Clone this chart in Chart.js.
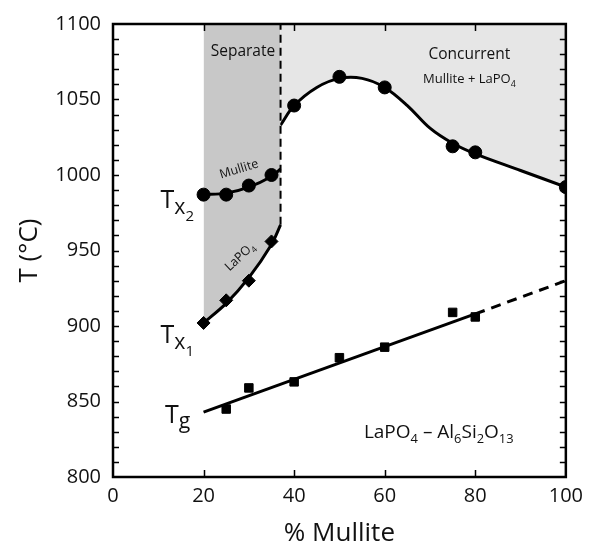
<!DOCTYPE html>
<html><head><meta charset="utf-8">
<script src="https://cdn.jsdelivr.net/npm/chart.js@4/dist/chart.umd.min.js"></script>
<style>html,body{margin:0;padding:0;background:#fff}#c{display:block}</style>
</head><body>
<canvas id="c" width="590" height="550"></canvas>
<script>
// ---- measured points ----
const tx2X = [20,25,30,35,40,50,60,75,80,100];
const tx2Y = [987,987,993,1000,1046,1065,1058,1019,1015,992];
const tx1X = [20,25,30,35];
const tx1Y = [902,917,930,956];
const tgX = [25,30,40,50,60,75,80];
const tgY = [845,859,863,879,886,909,906];
// ---- fitted curves ----
const tx1FitX = [20,25,30,35,37];
const tx1FitY = [902,915,932,954,967];
const tx2SepFitX = [20,25,30,35,37];
const tx2SepFitY = [987,988,992,999,1004];
const tx2ConFitX = [37,40,45,50,55,60,65,70,75,80,90,100];
const tx2ConFitY = [1033,1046,1058,1064,1064,1058,1046,1031,1021,1014,1003,992];
const tgFitX = [20,80];
const tgFitY = [843,908];
const tgExtX = [80,100];
const tgExtY = [908,930];
const boundaryX = [37,37];
const boundaryY = [967,1100];
// ---- axes ----
const xTicks = [0,20,40,60,80,100];
const yTicks = [800,850,900,950,1000,1050,1100];

const pts = (xs, ys) => xs.map((x,i)=>({x, y: ys[i]}));
const FONT = "'Open Sans', 'DejaVu Sans', sans-serif";

const decor = {
  id: 'decor',
  afterDatasetsDraw(chart) {
    const {ctx, chartArea: a, scales: {x, y}} = chart;
    ctx.save();
    ctx.strokeStyle = '#000';
    ctx.lineWidth = 1.5;
    // inward ticks
    ctx.beginPath();
    for (let v = 810; v < 1100; v += 10) {
      const py = Math.round(y.getPixelForValue(v)) + 0.5;
      ctx.moveTo(a.left, py); ctx.lineTo(a.left + 6, py);
      ctx.moveTo(a.right, py); ctx.lineTo(a.right - 6, py);
    }
    for (const v of xTicks.slice(1, -1)) {
      const px = Math.round(x.getPixelForValue(v)) + 0.5;
      ctx.moveTo(px, a.bottom); ctx.lineTo(px, a.bottom - 7);
      ctx.moveTo(px, a.top); ctx.lineTo(px, a.top + 7);
    }
    ctx.stroke();
    // frame
    ctx.lineWidth = 2.5;
    ctx.strokeRect(a.left, a.top, a.right - a.left, a.bottom - a.top);

    // texts
    ctx.fillStyle = '#111';
    const P = (vx, vy) => [x.getPixelForValue(vx), y.getPixelForValue(vy)];
    function rich(parts, px, py, size, align) {
      // parts: [text, mode, scale, dy]
      ctx.textBaseline = 'alphabetic';
      ctx.textAlign = 'left';
      const sz = m => m ? size * (m[2] || 0.68) : size;
      let w = 0;
      for (const pt of parts) {
        ctx.font = (pt[1] ? size * (pt[2] || 0.68) : size) + 'px ' + FONT;
        w += ctx.measureText(pt[0]).width;
      }
      let cx = align === 'center' ? px - w / 2 : px;
      for (const pt of parts) {
        const s = pt[1] ? size * (pt[2] || 0.68) : size;
        ctx.font = s + 'px ' + FONT;
        const dy = pt[1] ? (pt[3] !== undefined ? pt[3] : size * 0.28) : 0;
        ctx.fillText(pt[0], cx, py + dy);
        cx += ctx.measureText(pt[0]).width;
      }
    }
    let p;
    p = P(28.7, 1079); rich([['Separate',0]], p[0], p[1], 15.5, 'center');
    p = P(78.7, 1077); rich([['Concurrent',0]], p[0], p[1], 15.5, 'center');
    p = P(78.7, 1061); rich([['Mullite + LaPO',0],['4',1]], p[0], p[1], 13, 'center');
    // rotated labels
    p = P(27.8, 1004);
    ctx.save(); ctx.translate(p[0], p[1]); ctx.rotate(-17 * Math.PI / 180);
    rich([['Mullite',0]], 0, 4, 12.5, 'center'); ctx.restore();
    p = P(28.0, 946);
    ctx.save(); ctx.translate(p[0], p[1]); ctx.rotate(-43 * Math.PI / 180);
    rich([['LaPO',0],['4',1]], 0, 4, 12.5, 'center'); ctx.restore();
    // series labels
    p = P(10.5, 978); rich([['T',0],['x',1,0.85,6],['2',1,0.6,13]], p[0], p[1], 25, 'left');
    p = P(10.5, 889); rich([['T',0],['x',1,0.85,6],['1',1,0.6,13]], p[0], p[1], 25, 'left');
    p = P(11.5, 836); rich([['T',0],['g',1,0.85,5]], p[0], p[1], 25, 'left');
    p = P(55.4, 826);
    rich([['LaPO',0],['4',1],[' – Al',0],['6',1],['Si',0],['2',1],['O',0],['13',1]], p[0], p[1], 19, 'left');
    ctx.restore();
  }
};

new Chart(document.getElementById('c'), {
  type: 'scatter',
  data: {
    datasets: [
      { type: 'line', data: pts(tx2ConFitX, tx2ConFitY), fill: 'end', backgroundColor: '#e6e6e6',
        borderColor: '#000', borderWidth: 3, pointRadius: 0, tension: 0.35, order: 5 },
      { type: 'line', data: pts(tx1FitX, tx1FitY), fill: 'end', backgroundColor: '#c8c8c8',
        borderColor: '#000', borderWidth: 3, pointRadius: 0, tension: 0.3, order: 4 },
      { type: 'line', data: pts(tx2SepFitX, tx2SepFitY), fill: false,
        borderColor: '#000', borderWidth: 3, pointRadius: 0, tension: 0.3, order: 3 },
      { type: 'line', data: pts(boundaryX, boundaryY), fill: false, borderDash: [8,5],
        borderColor: '#000', borderWidth: 2, pointRadius: 0, order: 3 },
      { type: 'line', data: pts(tgFitX, tgFitY), fill: false,
        borderColor: '#000', borderWidth: 3, pointRadius: 0, order: 3 },
      { type: 'line', data: pts(tgExtX, tgExtY), fill: false, borderDash: [10,7],
        borderColor: '#000', borderWidth: 3, pointRadius: 0, order: 3 },
      { label: 'Tx2', data: pts(tx2X, tx2Y), pointStyle: 'circle', pointRadius: 6.5,
        backgroundColor: '#000', borderColor: '#000', order: 1 },
      { label: 'Tx1', data: pts(tx1X, tx1Y), pointStyle: 'rectRot', pointRadius: 6.5,
        backgroundColor: '#000', borderColor: '#000', order: 1 },
      { label: 'Tg', data: pts(tgX, tgY), pointStyle: 'rect', pointRadius: 6,
        backgroundColor: '#000', borderColor: '#000', order: 1 }
    ]
  },
  options: {
    responsive: false,
    animation: false,
    layout: { padding: { left: 0, top: 21, right: 17, bottom: 0 } },
    plugins: { legend: { display: false }, tooltip: { enabled: false } },
    scales: {
      x: {
        type: 'linear', min: 0, max: 100,
        afterBuildTicks: s => { s.ticks = xTicks.map(v => ({value: v})); },
        afterFit: s => { s.height = 73; },
        grid: { display: false, drawTicks: false },
        border: { display: false },
        ticks: { padding: 7, color: '#111', font: { family: FONT, size: 20 }, callback: v => String(v) },
        title: { display: true, text: '% Mullite', color: '#111',
          font: { family: FONT, size: 26, lineHeight: 1.2 }, padding: { top: 0, bottom: 1 } }
      },
      y: {
        type: 'linear', min: 800, max: 1100,
        afterBuildTicks: s => { s.ticks = yTicks.map(v => ({value: v})); },
        afterFit: s => { s.width = 113; },
        grid: { display: false, drawTicks: false },
        border: { display: false },
        ticks: { padding: 12, color: '#111', font: { family: FONT, size: 20 }, callback: v => String(v) },
        title: { display: true, text: 'T (°C)', color: '#111',
          font: { family: FONT, size: 26, lineHeight: 1.2 }, padding: { top: 14, bottom: 0 } }
      }
    }
  },
  plugins: [decor]
});
</script>
</body></html>
